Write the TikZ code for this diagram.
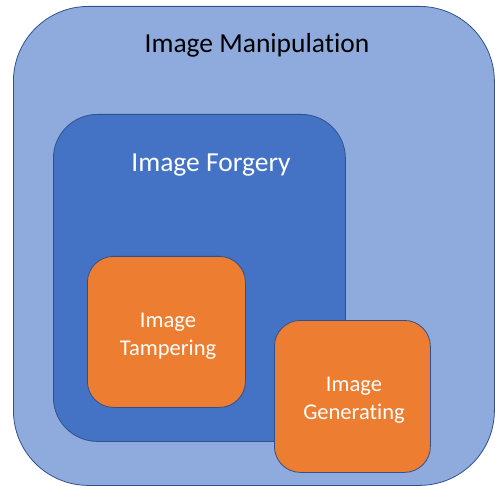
\documentclass[tikz,border=0pt]{standalone}
\usepackage{fontspec}
\setmainfont[Ligatures={NoCommon}]{Carlito}
\definecolor{manipfill}{HTML}{8FAADC}
\definecolor{forgfill}{HTML}{4472C4}
\definecolor{leaffill}{HTML}{ED7D31}
\definecolor{edgeblue}{HTML}{2F528F}
\begin{document}
\begin{tikzpicture}[x=1pt,y=-1pt,
  region/.style={draw=edgeblue, line width=0.8pt, inner sep=0pt, anchor=north west},
  outerbox/.style={region, fill=manipfill, rounded corners=75pt},
  midbox/.style={region, fill=forgfill, rounded corners=44pt},
  leafbox/.style={region, fill=leaffill, rounded corners=26pt},
  caption/.style={font=\fontsize{27.5}{33}\selectfont, align=center, inner sep=0pt, anchor=base},
  leafcaption/.style={caption, text=white, font=\fontsize{22.5}{28}\selectfont}]
\useasboundingbox (0,0) rectangle (495,486);
% nested regions, outermost first
\node[outerbox, minimum width=481pt, minimum height=479pt] (manip) at (13,6) {};
\node[midbox, minimum width=292pt, minimum height=327pt] (forg) at (53,114) {};
\node[leafbox, minimum width=158pt, minimum height=151pt] (tamp) at (87,256) {};
\node[leafbox, minimum width=156pt, minimum height=152pt] (gen) at (274,320) {};
% labels (base anchor sits on the last line of a two-line caption)
\node[caption, text=black] (manipText) at (257,53) {Image Manipulation};
\node[caption, text=white] (forgText) at (211,172) {Image Forgery};
\node[leafcaption] (tampText) at (168,355) {Image\\Tampering};
\node[leafcaption] (genText) at (354,419) {Image\\Generating};
\end{tikzpicture}
\end{document}
